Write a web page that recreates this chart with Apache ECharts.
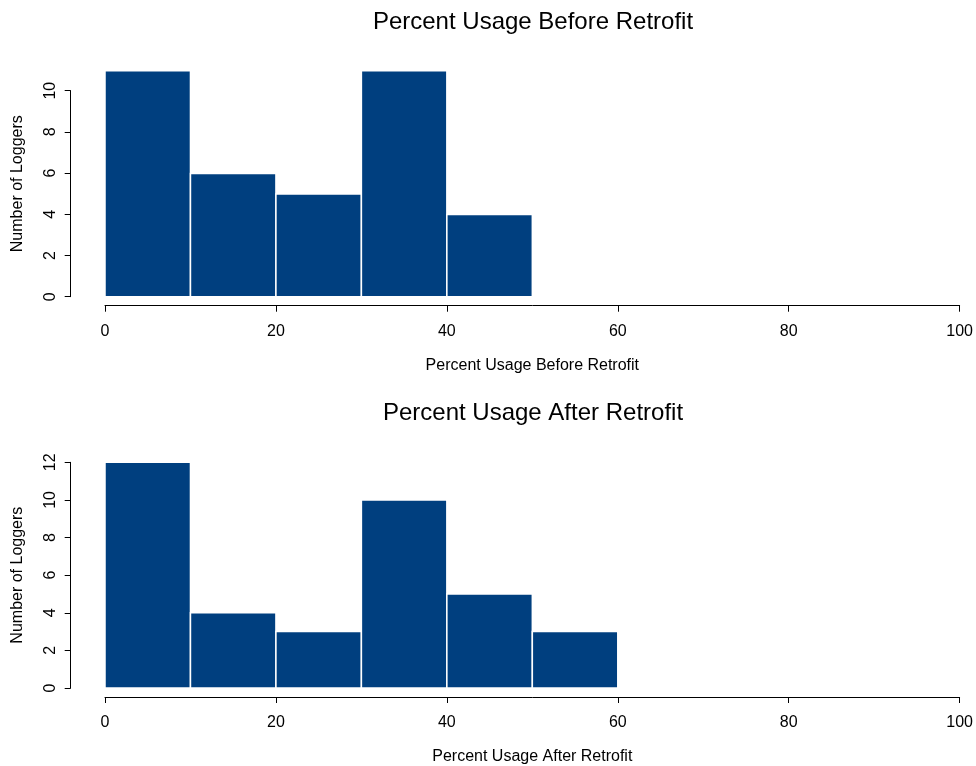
<!DOCTYPE html>
<html>
<head>
<meta charset="utf-8">
<script src="https://cdn.jsdelivr.net/npm/echarts@6/dist/echarts.min.js"></script>
<style>html,body{margin:0;padding:0;background:#fff}#c{width:976px;height:766px}</style>
</head>
<body>
<div id="c"></div>
<script>
// ---- data ----
const binEdges = [0, 10, 20, 30, 40, 50, 60, 70, 80, 90, 100];
const beforeCounts = [11, 6, 5, 11, 4, 0, 0, 0, 0, 0];
const afterCounts = [12, 4, 3, 10, 5, 3, 0, 0, 0, 0];
const xTicks = [0, 20, 40, 60, 80, 100];
const beforeTitle = 'Percent Usage Before Retrofit';
const afterTitle = 'Percent Usage After Retrofit';
const yName = 'Number of Loggers';

const BAR = '#003F7F';
const FONT = 'Liberation Sans, Arial, Helvetica, sans-serif';

function toRows(counts) {
  return counts.map((c, i) => [binEdges[i], binEdges[i + 1], c]);
}

function renderItem(params, api) {
  const p0 = api.coord([api.value(0), api.value(2)]);
  const p1 = api.coord([api.value(1), 0]);
  return {
    type: 'rect',
    shape: { x: p0[0], y: p0[1], width: p1[0] - p0[0], height: p1[1] - p0[1] },
    style: { fill: BAR, stroke: '#ffffff', lineWidth: 1.5 }
  };
}

const axisText = { color: '#000', fontSize: 16, fontFamily: FONT };

function xAxisCfg(gridIndex, name) {
  return {
    type: 'value', gridIndex, min: 0, max: 100, interval: 20,
    offset: 9,
    splitLine: { show: false },
    axisLine: { show: true, onZero: false, lineStyle: { color: '#000', width: 1 } },
    axisTick: { show: true, length: 6, lineStyle: { color: '#000' } },
    axisLabel: Object.assign({ margin: 18, formatter: v => xTicks.includes(v) ? String(v) : '' }, axisText),
    name, nameLocation: 'middle', nameGap: 52,
    nameTextStyle: axisText
  };
}

function yAxisCfg(gridIndex, max, offset, withName) {
  return {
    type: 'value', gridIndex, min: 0, max, interval: 2,
    offset,
    splitLine: { show: false },
    axisLine: { show: true, onZero: false, lineStyle: { color: '#000', width: 1 } },
    axisTick: { show: true, length: 6, lineStyle: { color: '#000' } },
    axisLabel: Object.assign({ margin: 12, rotate: 90 }, axisText),
    name: withName ? yName : '', nameLocation: 'middle', nameGap: 45, nameRotate: 90,
    nameTextStyle: axisText
  };
}

const chart = echarts.init(document.getElementById('c'), null, { renderer: 'canvas' });
chart.setOption({
  animation: false,
  backgroundColor: '#fff',
  title: [
    { text: beforeTitle, left: 528, top: 5, textAlign: 'center',
      textStyle: { fontSize: 24, fontWeight: 'normal', color: '#000', fontFamily: FONT } },
    { text: afterTitle, left: 528, top: 396, textAlign: 'center',
      textStyle: { fontSize: 24, fontWeight: 'normal', color: '#000', fontFamily: FONT } }
  ],
  grid: [
    { left: 105, right: 16, top: 70.7, height: 226 },   // top data
    { left: 105, right: 16, top: 90.7, height: 206 },   // top y-axis (0..10)
    { left: 105, right: 16, top: 462.3, height: 226 }   // bottom data + axes
  ],
  xAxis: [
    xAxisCfg(0, beforeTitle),
    { type: 'value', gridIndex: 1, min: 0, max: 100, show: false },
    xAxisCfg(2, afterTitle)
  ],
  yAxis: [
    { type: 'value', gridIndex: 0, min: 0, max: 11, offset: 34.3,
      splitLine: { show: false },
      axisLine: { show: false, onZero: false }, axisTick: { show: false }, axisLabel: { show: false },
      name: yName, nameLocation: 'middle', nameGap: 45, nameRotate: 90,
      nameTextStyle: axisText },
    yAxisCfg(1, 10, 34.3, false),
    yAxisCfg(2, 12, 34.3, true)
  ],
  series: [
    { type: 'custom', xAxisIndex: 0, yAxisIndex: 0, renderItem,
      encode: { x: [0, 1], y: 2 }, data: toRows(beforeCounts) },
    { type: 'custom', xAxisIndex: 2, yAxisIndex: 2, renderItem,
      encode: { x: [0, 1], y: 2 }, data: toRows(afterCounts) }
  ]
});
</script>
</body>
</html>
